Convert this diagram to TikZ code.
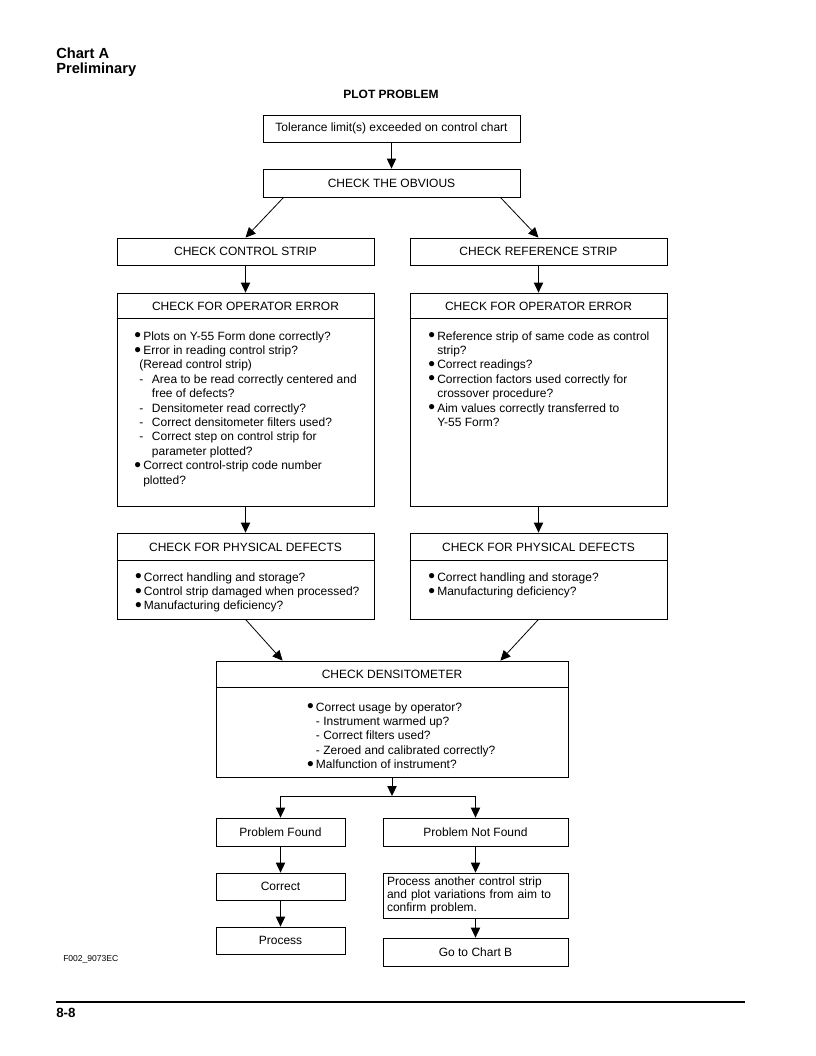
\documentclass[tikz,border=0pt]{standalone}
\usepackage{fontspec}
\usepackage{graphicx}
\setmainfont{Liberation Sans}
\usetikzlibrary{arrows.meta,calc}
\newcommand\fs{\fontsize{9}{10.8}\selectfont}
\newcommand\bul{\makebox[6pt][l]{\hspace*{-0.6pt}\raisebox{-1.3pt}{\scalebox{1.6}{\textbullet}}}}
\newcommand\dsh{\hspace*{3pt}\makebox[9.5pt][l]{-}}
\begin{document}
\begin{tikzpicture}[x=0.75pt,y=-0.75pt,
  box/.style={draw, line width=0.6pt, inner sep=0pt, font=\fs, align=center},
  txt/.style={inner sep=0pt, font=\fs, anchor=base west},
  hdr/.style={inner sep=0pt, font=\fs},
  arr/.style={-{Triangle[length=7.5pt,width=7pt]}, line width=0.6pt},
  lbl/.style={inner sep=0pt, anchor=base west, font=\fontsize{11}{13}\selectfont\bfseries}]
\useasboundingbox (0,0) rectangle (816,1056);

% titles
\node[lbl] (t1) at (56,58.3) {Chart A};
\node[lbl] (t2) at (56,73.3) {Preliminary};
\node[inner sep=0pt, anchor=base, font=\fontsize{9}{11}\selectfont\bfseries] (pp) at (391,98.7) {PLOT PROBLEM};

% top boxes
\node[box, minimum width=192.75pt, minimum height=20.25pt] (tol) at (391.5,128.5) {Tolerance limit(s) exceeded on control chart};
\node[box, minimum width=192.75pt, minimum height=21pt] (obv) at (391.5,183) {CHECK THE OBVIOUS};
\node[box, minimum width=192.75pt, minimum height=20.25pt] (ccs) at (245.5,251.5) {CHECK CONTROL STRIP};
\node[box, minimum width=192.75pt, minimum height=20.25pt] (crs) at (538.5,251.5) {CHECK REFERENCE STRIP};

% operator error boxes
\node[box, minimum width=192.75pt, minimum height=159.75pt] (opL) at (245.5,399.5) {};
\node[box, minimum width=192.75pt, minimum height=159.75pt] (opR) at (538.5,399.5) {};
\draw[line width=0.6pt] ($(opL.north west)+(0,26)$) -- ($(opL.north east)+(0,26)$);
\draw[line width=0.6pt] ($(opR.north west)+(0,26)$) -- ($(opR.north east)+(0,26)$);
\node[hdr] (opLh) at (245.5,306) {CHECK FOR OPERATOR ERROR};
\node[hdr] (opRh) at (538.5,306) {CHECK FOR OPERATOR ERROR};
\node[txt] (opLt) at (135,340) {\begin{tabular}[t]{@{}l@{}}
\bul Plots on Y-55 Form done correctly?\\
\bul Error in reading control strip?\\
\hspace*{3pt}(Reread control strip)\\
\dsh Area to be read correctly centered and\\
\hspace*{12.5pt}free of defects?\\
\dsh Densitometer read correctly?\\
\dsh Correct densitometer filters used?\\
\dsh Correct step on control strip for\\
\hspace*{12.5pt}parameter plotted?\\
\bul Correct control-strip code number\\
\hspace*{6pt}plotted?
\end{tabular}};
\node[txt] (opRt) at (429,340) {\begin{tabular}[t]{@{}l@{}}
\bul Reference strip of same code as control\\
\hspace*{6pt}strip?\\
\bul Correct readings?\\
\bul Correction factors used correctly for\\
\hspace*{6pt}crossover procedure?\\
\bul Aim values correctly transferred to\\
\hspace*{6pt}Y-55 Form?
\end{tabular}};

% physical defects boxes
\node[box, minimum width=192.75pt, minimum height=64.5pt] (phL) at (245.5,576) {};
\node[box, minimum width=192.75pt, minimum height=64.5pt] (phR) at (538.5,576) {};
\draw[line width=0.6pt] ($(phL.north west)+(0,28)$) -- ($(phL.north east)+(0,28)$);
\draw[line width=0.6pt] ($(phR.north west)+(0,28)$) -- ($(phR.north east)+(0,28)$);
\node[hdr] (phLh) at (245.5,547) {CHECK FOR PHYSICAL DEFECTS};
\node[hdr] (phRh) at (538.5,547) {CHECK FOR PHYSICAL DEFECTS};
\node[txt] (phLt) at (135.7,581) {\begin{tabular}[t]{@{}l@{}}
\bul Correct handling and storage?\\
\bul Control strip damaged when processed?\\
\bul Manufacturing deficiency?
\end{tabular}};
\node[txt] (phRt) at (429,581) {\begin{tabular}[t]{@{}l@{}}
\bul Correct handling and storage?\\
\bul Manufacturing deficiency?
\end{tabular}};

% densitometer
\node[box, minimum width=264pt, minimum height=87pt] (dens) at (392,719) {};
\draw[line width=0.6pt] ($(dens.north west)+(0,27)$) -- ($(dens.north east)+(0,27)$);
\node[hdr] (densh) at (392,674.5) {CHECK DENSITOMETER};
\node[txt] (denst) at (307.7,711) {\begin{tabular}[t]{@{}l@{}}
\bul Correct usage by operator?\\
\hspace*{6pt}- Instrument warmed up?\\
\hspace*{6pt}- Correct filters used?\\
\hspace*{6pt}- Zeroed and calibrated correctly?\\
\bul Malfunction of instrument?
\end{tabular}};

% bottom boxes
\node[box, minimum width=96.75pt, minimum height=21pt] (pf) at (280.5,832) {Problem Found};
\node[box, minimum width=138.75pt, minimum height=21pt] (pnf) at (475.5,832) {Problem Not Found};
\node[box, minimum width=96.75pt, minimum height=20.25pt] (cor) at (280.5,886.5) {Correct};
\node[box, minimum width=96.75pt, minimum height=20.25pt] (proc) at (280.5,940.5) {Process};
\node[box, minimum height=33.75pt, text width=132.75pt, inner xsep=3pt, align=left, font=\fontsize{9}{9.75}\selectfont] (pa) at (475.5,895.5) {Process another control strip\\and plot variations from aim to\\confirm problem.};
\node[box, minimum width=138.75pt, minimum height=21pt] (gob) at (475.5,952) {Go to Chart B};

% connectors
\draw[arr] (tol.south) -- (obv.north);
\draw[arr] ($(obv.south west)+(21,0)$) -- (ccs.north);
\draw[arr] ($(obv.south east)+(-20,0)$) -- (crs.north);
\draw[arr] (ccs.south) -- (opL.north);
\draw[arr] (crs.south) -- (opR.north);
\draw[arr] (opL.south) -- (phL.north);
\draw[arr] (opR.south) -- (phR.north);
\draw[arr] (phL.south) -- ($(dens.north west)+(67,0)$);
\draw[arr] (phR.south) -- ($(dens.north east)+(-68,0)$);
\coordinate (br) at (392,796);
\draw[arr] (dens.south) -- (br);
\draw[line width=0.6pt] (pf.north |- br) -- (pnf.north |- br);
\draw[arr] (pf.north |- br) -- (pf.north);
\draw[arr] (pnf.north |- br) -- (pnf.north);
\draw[arr] (pf.south) -- (cor.north);
\draw[arr] (cor.south) -- (proc.north);
\draw[arr] (pnf.south) -- (pa.north);
\draw[arr] (pa.south) -- (gob.north);

% footer
\node[inner sep=0pt, anchor=west, font=\fontsize{6.4}{8}\selectfont] (fig) at (63,959) {F002\_9073EC};
\coordinate (rl) at (56,1002);
\coordinate (rr) at (745,1002);
\draw[line width=0.8pt] (rl) -- (rr);
\node[inner sep=0pt, anchor=base west, font=\fontsize{10}{12}\selectfont\bfseries] (pg) at (56,1017) {8-8};
\end{tikzpicture}
\end{document}
